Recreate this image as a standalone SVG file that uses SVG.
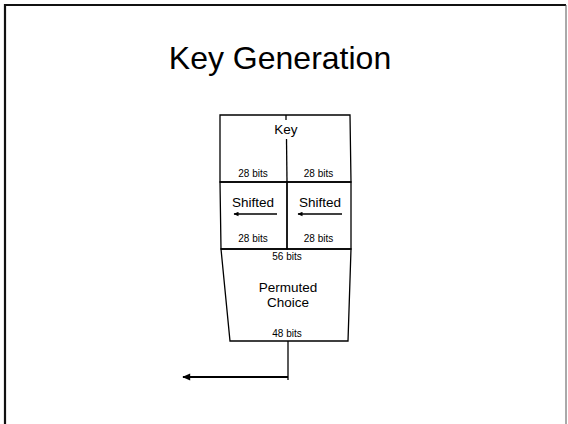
<svg xmlns="http://www.w3.org/2000/svg" width="568" height="424" viewBox="0 0 568 424">
  <style>
    .t { font-family: "Liberation Sans", Arial, sans-serif; fill: #000; text-anchor: middle; }
    .ln { stroke: #000; stroke-width: 1.3; fill: none; }
    .bits { font-size: 10px; }
    .lbl { font-size: 13.5px; }
  </style>
  <defs>
    <!-- arrowheads point along the line direction; tip sits at the line end -->
    <marker id="ah" viewBox="0 0 10 10" refX="9" refY="5" markerWidth="8" markerHeight="5" orient="auto" markerUnits="userSpaceOnUse">
      <path d="M0,0.5 L10,5 L0,9.5 Z" fill="#000"/>
    </marker>
    <marker id="ahBig" viewBox="0 0 10 10" refX="9" refY="5" markerWidth="10" markerHeight="8" orient="auto" markerUnits="userSpaceOnUse">
      <path d="M0,0.5 L10,5 L0,9.5 Z" fill="#000"/>
    </marker>
  </defs>
  <rect width="568" height="424" fill="#fff"/>
  <!-- slide frame -->
  <path d="M5,430 L5,5 L566,5" fill="none" stroke="#111" stroke-width="2.2"/>
  <line x1="566" y1="5" x2="566" y2="430" stroke="#555" stroke-width="1"/>
  <text class="t" x="280" y="69" font-size="32">Key Generation</text>

  <g id="key">
    <path class="ln" d="M220,115 L350,115 L351,182 L220,182 Z"/>
    <line class="ln" x1="286" y1="115" x2="286" y2="120"/>
    <line class="ln" x1="286.5" y1="139" x2="287" y2="182"/>
    <text class="t lbl" x="286" y="134">Key</text>
    <text class="t bits" x="253" y="177">28 bits</text>
    <text class="t bits" x="318.5" y="177">28 bits</text>
  </g>

  <g id="shift-left">
    <path class="ln" d="M220,182 L287,182 L287,249 L221,249 Z"/>
    <text class="t lbl" x="253" y="207">Shifted</text>
    <line class="ln" x1="277" y1="214" x2="234" y2="214" marker-end="url(#ah)"/>
    <text class="t bits" x="253" y="242">28 bits</text>
  </g>

  <g id="shift-right">
    <path class="ln" d="M287,182 L351,182 L351,249 L287,249 Z"/>
    <text class="t lbl" x="320" y="207">Shifted</text>
    <line class="ln" x1="342" y1="214" x2="298" y2="214" marker-end="url(#ah)"/>
    <text class="t bits" x="318.5" y="242">28 bits</text>
  </g>

  <g id="permuted-choice">
    <path class="ln" d="M221,249 L351,249 L348,341 L230,341 Z"/>
    <text class="t bits" x="287" y="260">56 bits</text>
    <text class="t lbl" x="288" y="292">Permuted</text>
    <text class="t lbl" x="288" y="307">Choice</text>
    <text class="t bits" x="287" y="337">48 bits</text>
  </g>

  <g id="connectors">
    <line class="ln" x1="288" y1="341" x2="288" y2="380"/>
    <line x1="288" y1="377" x2="183" y2="377" stroke="#000" stroke-width="2" marker-end="url(#ahBig)"/>
  </g>
</svg>
